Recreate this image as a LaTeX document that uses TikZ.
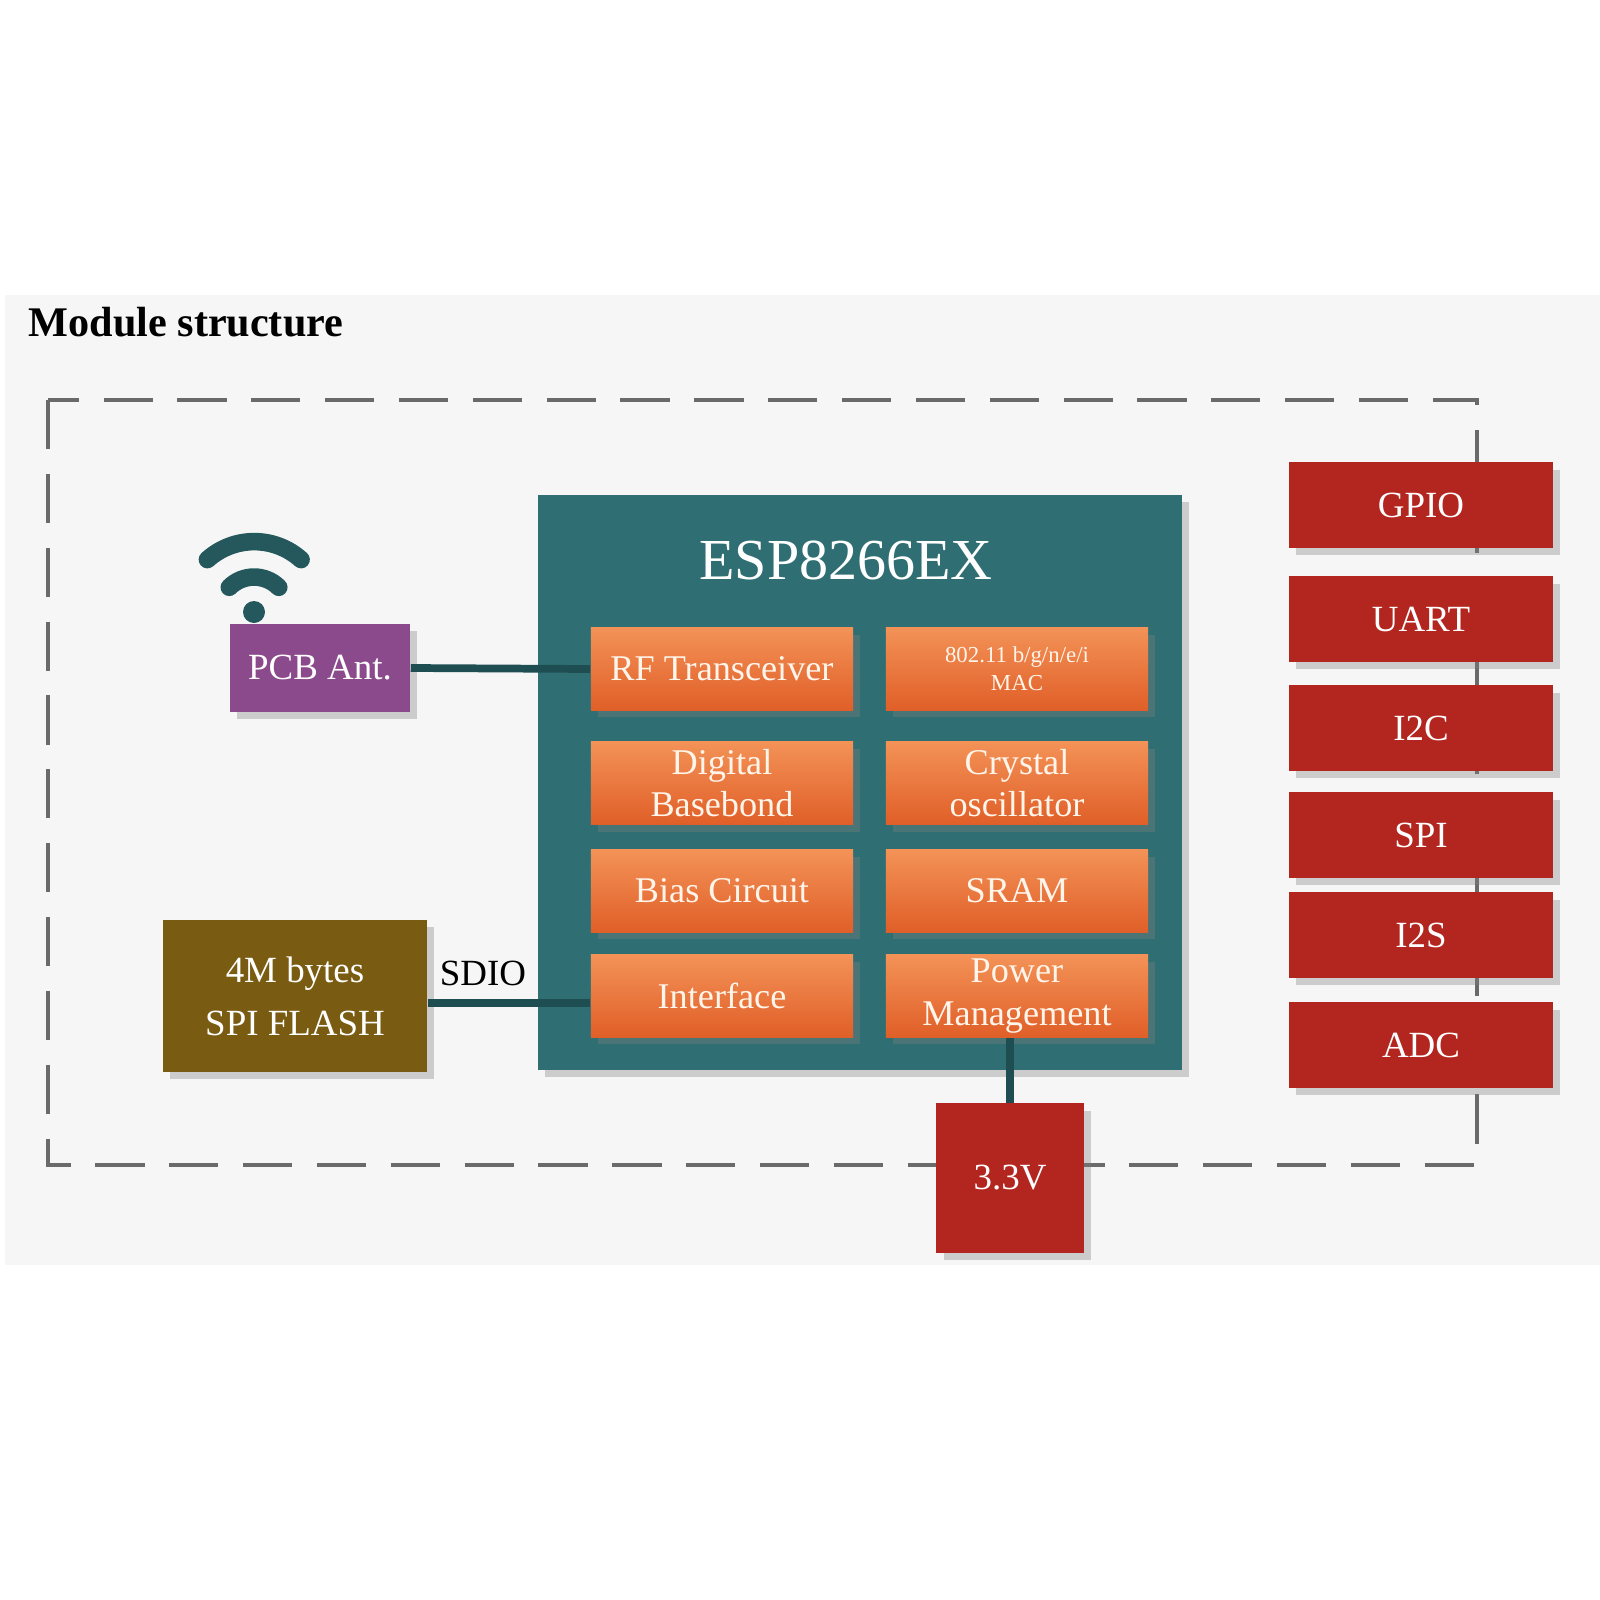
\documentclass[tikz,border=0pt]{standalone}
\usepackage{fontspec}
\setmainfont{Liberation Serif}
\usetikzlibrary{shadows}
\definecolor{teal1}{HTML}{2F6F73}
\definecolor{lineC}{HTML}{1F4E52}
\definecolor{org1}{HTML}{F39257}
\definecolor{org2}{HTML}{E05F28}
\definecolor{redb}{HTML}{B3261F}
\definecolor{purp}{HTML}{8B4A8C}
\definecolor{oliv}{HTML}{7A5B12}
\definecolor{bgc}{HTML}{F6F6F6}
\definecolor{dashc}{HTML}{6A6A6A}
\tikzset{
 x=0.01cm,y=-0.01cm,
 sub/.style={draw=none,top color=org1,bottom color=org2,drop shadow={opacity=0.35,shadow xshift=2pt,shadow yshift=-2pt},text=white!92!orange,font=\fontsize{10.3}{12}\selectfont,align=center,inner sep=0pt},
 port/.style={fill=redb,drop shadow={opacity=0.35,shadow xshift=2pt,shadow yshift=-2pt},text=white,font=\fontsize{10.5}{12}\selectfont,inner sep=0pt},
 conn/.style={draw=lineC,line width=2.2pt},
 wifi/.style={draw=lineC!70!teal1,line width=5pt,line cap=round}
}
\begin{document}
\begin{tikzpicture}
\useasboundingbox (0,0) rectangle (1600,1600);
\fill[white] (0,0) rectangle (1600,1600);
\fill[bgc] (5,295) rectangle (1600,1265);
\node[anchor=west,inner sep=0pt,font=\bfseries\fontsize{12}{14}\selectfont] (title) at (28,322) {Module structure};
\draw[dashc,line width=1.3pt,dash pattern=on 14pt off 7pt] (48,400) rectangle (1477,1165);
% ESP
\node[fill=teal1,drop shadow={opacity=0.35,shadow xshift=2pt,shadow yshift=-2pt},minimum width=6.44cm,minimum height=5.75cm,inner sep=0pt] (esp) at (860,782.5) {};
\node[text=white,font=\fontsize{16.5}{20}\selectfont] (esptitle) at (846,560) {ESP8266EX};
% sub blocks
\node[sub,minimum width=2.62cm,minimum height=0.82cm] (rf) at (722,669) {RF Transceiver};
\node[sub,minimum width=2.62cm,minimum height=0.82cm,font=\fontsize{6.5}{8}\selectfont] (mac) at (1017,669) {802.11 b/g/n/e/i\\MAC};
\node[sub,minimum width=2.62cm,minimum height=0.83cm] (dbb) at (722,783) {Digital\\Basebond};
\node[sub,minimum width=2.62cm,minimum height=0.83cm] (xo) at (1017,783) {Crystal\\oscillator};
\node[sub,minimum width=2.62cm,minimum height=0.82cm] (bias) at (722,891) {Bias Circuit};
\node[sub,minimum width=2.62cm,minimum height=0.82cm] (sram) at (1017,891) {SRAM};
\node[sub,minimum width=2.62cm,minimum height=0.82cm] (intf) at (722,996) {Interface};
\node[sub,minimum width=2.62cm,minimum height=0.82cm] (pm) at (1017,996) {Power\\Management};
% PCB ant
\node[fill=purp,drop shadow={opacity=0.35,shadow xshift=2pt,shadow yshift=-2pt},text=white,minimum width=1.8cm,minimum height=0.88cm,inner sep=0pt,font=\fontsize{10.5}{12}\selectfont] (ant) at (320,668) {PCB Ant.};
\fill[lineC!70!teal1] (254,612) circle (11);
\draw[wifi] (229.3,587.3) arc[start angle=225,end angle=315,radius=35];
\draw[wifi] (207.4,559.6) arc[start angle=228,end angle=312,radius=70];
\draw[conn] (ant.east) -- (rf.west);
% flash
\node[fill=oliv,drop shadow={opacity=0.35,shadow xshift=2pt,shadow yshift=-2pt},text=white,minimum width=2.64cm,minimum height=1.51cm,inner sep=0pt,align=center,font=\fontsize{10.5}{15}\selectfont] (flash) at (295,996) {4M bytes\\SPI FLASH};
\node[font=\fontsize{10.5}{12}\selectfont] (sdio) at (483,973) {SDIO};
\draw[conn] (flash.east |- 0,1003) -- (intf.west |- 0,1003);
% ports
\node[port,minimum width=2.63cm,minimum height=0.85cm] (gpio) at (1421,505) {GPIO};
\node[port,minimum width=2.63cm,minimum height=0.85cm] (uart) at (1421,619) {UART};
\node[port,minimum width=2.63cm,minimum height=0.85cm] (i2c) at (1421,728) {I2C};
\node[port,minimum width=2.63cm,minimum height=0.85cm] (spi) at (1421,835) {SPI};
\node[port,minimum width=2.63cm,minimum height=0.85cm] (i2s) at (1421,935) {I2S};
\node[port,minimum width=2.63cm,minimum height=0.85cm] (adc) at (1421,1045) {ADC};
% 3.3V
\node[port,minimum width=1.47cm,minimum height=1.49cm] (v33) at (1010,1178) {3.3V};
\draw[conn] (v33.north) -- (v33.north |- pm.south);
\end{tikzpicture}
\end{document}
